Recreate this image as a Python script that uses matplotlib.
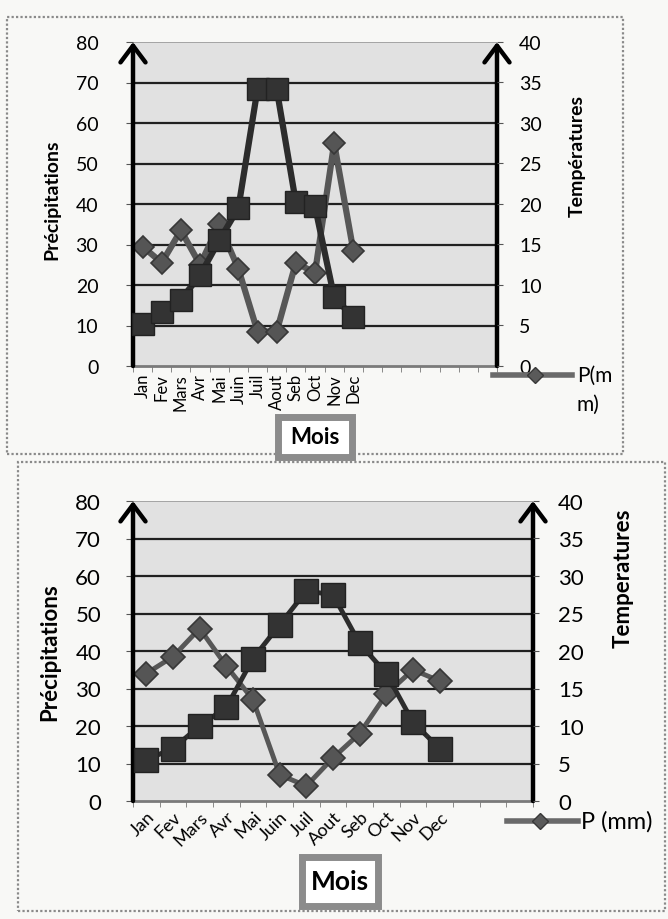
import numpy as np
import matplotlib
matplotlib.use("Agg")
import matplotlib.pyplot as plt
from matplotlib.patches import Rectangle
from matplotlib.lines import Line2D

plt.rcParams['font.family'] = ['Lato', 'DejaVu Sans']

# data
mois_haut = ['Jan', 'Fev', 'Mars', 'Avr', 'Mai', 'Juin', 'Juil', 'Aout', 'Seb', 'Oct', 'Nov', 'Dec']
precip_haut = [29.5, 25.5, 33.5, 25, 35, 24, 8.5, 8.5, 25.5, 23, 55, 28.5]
temp_haut = [5.2, 6.7, 8.2, 11.2, 15.5, 19.5, 34.2, 34.2, 20.2, 19.7, 8.5, 6]
n_cat_haut = 19  # excel range had empty rows after Dec

mois_bas = ['Jan', 'Fev', 'Mars', 'Avr', 'Mai', 'Juin', 'Juil', 'Aout', 'Seb', 'Oct', 'Nov', 'Dec']
precip_bas = [34, 38.5, 46, 36, 27, 7, 4, 11.5, 18, 28.5, 35, 32]
temp_bas = [5.5, 7, 10, 12.5, 19, 23.5, 28, 27.5, 21, 17, 10.5, 7]
n_cat_bas = 15

W, H = 668, 920
fig = plt.figure(figsize=(W / 100, H / 100), dpi=100)
fig.patch.set_facecolor('#f8f8f6')


def px_axes(x0, y0, x1, y1):
    return fig.add_axes([x0 / W, 1 - y1 / H, (x1 - x0) / W, (y1 - y0) / H])


def fx(x):
    return x / W


def fy(y):
    return 1 - y / H


def frame(x0, y0, x1, y1):
    fig.patches.append(Rectangle((fx(x0), fy(y1)), fx(x1) - fx(x0), fy(y0) - fy(y1),
                                 transform=fig.transFigure, fill=False,
                                 edgecolor='#8a8a8a', lw=1.6, linestyle=(0, (1, 1))))


def mois_box(x0, y0, x1, y1, size):
    fig.patches.append(Rectangle((fx(x0), fy(y1)), fx(x1) - fx(x0), fy(y0) - fy(y1),
                                 transform=fig.transFigure, facecolor='white',
                                 edgecolor='#8c8c8c', lw=5))
    fig.text(fx((x0 + x1) / 2), fy((y0 + y1) / 2), 'Mois', ha='center', va='center',
             fontsize=size, fontweight='bold')


def draw_panel(box, months, precip, temp, n_cat, tick_fs, lab_fs, rlab, rlab_fs,
               xrot, x_fs, lw_line, ms_sq, ms_d, pad_l, pad_r, lpos, rpos):
    ax = px_axes(*box)
    ax.set_facecolor('#e1e1e1')
    ax.set_xlim(-0.5, n_cat - 0.5)
    ax.set_ylim(0, 80)
    ax.set_yticks(np.arange(0, 81, 10))
    for v in range(10, 80, 10):
        ax.axhline(v, color='#202020', lw=1.6, zorder=1)
    ax.axhline(80, color='#9a9a9a', lw=1.2, zorder=1)
    for s in ['left', 'right', 'top']:
        ax.spines[s].set_visible(False)
    ax.spines['bottom'].set_color('#7a7a7a')
    ax.spines['bottom'].set_linewidth(2)
    ax.spines['bottom'].set_linestyle((0, (1, 1)))

    x = np.arange(len(months))
    ax.set_xticks(x)
    if xrot == 90:
        ax.set_xticklabels(months, rotation=90, fontsize=x_fs, ha='center', va='top')
    else:
        ax.set_xticklabels(months, rotation=45, fontsize=x_fs, ha='right', va='top',
                           rotation_mode='anchor')
    ax.set_xticks(np.arange(-0.5, n_cat, 1), minor=True)
    ax.tick_params(axis='x', which='major', length=0, pad=5)
    ax.tick_params(axis='x', which='minor', length=4, color='#777777')
    ax.tick_params(axis='y', length=5, color='#555555', labelsize=tick_fs, pad=pad_l)
    ax.set_ylabel('Précipitations', fontsize=lab_fs, fontweight='bold')
    ax.yaxis.set_label_coords(*lpos)
    ax.yaxis.label.set_verticalalignment('center')

    ax.plot(x, precip, color='#575757', lw=lw_line, marker='D', ms=ms_d,
            mfc='#555555', mec='#383838', mew=1.2, zorder=3, clip_on=False)

    ax2 = ax.twinx()
    ax2.set_ylim(0, 40)
    ax2.set_yticks(np.arange(0, 41, 5))
    for s in ['left', 'right', 'top', 'bottom']:
        ax2.spines[s].set_visible(False)
    ax2.tick_params(axis='y', length=4, color='#555555', labelsize=tick_fs, pad=pad_r)
    ax2.set_ylabel(rlab, fontsize=rlab_fs, fontweight='bold')
    ax2.yaxis.set_label_coords(*rpos)
    ax2.yaxis.label.set_verticalalignment('center')
    ax2.plot(x, temp, color='#2c2c2c', lw=lw_line, marker='s', ms=ms_sq,
             mfc='#333333', mec='#222222', zorder=4, clip_on=False)

    for xa in (0, 1):
        ax.annotate('', xy=(xa, 1.0), xytext=(xa, 0), xycoords='axes fraction',
                    arrowprops=dict(arrowstyle='->,head_length=0.6,head_width=0.45',
                                    lw=3.2, color='black', mutation_scale=20,
                                    shrinkA=0, shrinkB=0), zorder=6)
    return ax


# top chart
frame(7, 18, 623, 455)
draw_panel((133, 43, 497, 367), mois_haut, precip_haut, temp_haut, n_cat_haut,
           tick_fs=14, lab_fs=14, rlab='Températures', rlab_fs=14,
           xrot=90, x_fs=12, lw_line=4.5, ms_sq=16, ms_d=11, pad_l=20, pad_r=12,
           lpos=(-0.223, 0.515), rpos=(1.22, 0.65))
mois_box(278, 418, 352, 458, 16)
fig.lines.append(Line2D([fx(493), fx(572)], [fy(376), fy(376)], transform=fig.transFigure,
                        color='#6a6a6a', lw=4))
fig.lines.append(Line2D([fx(535)], [fy(376)], transform=fig.transFigure, marker='D',
                        ms=8, color='#5a5a5a', mec='#383838'))
fig.text(fx(577), fy(376), 'P(m', fontsize=15, va='center', ha='left')
fig.text(fx(577), fy(405), 'm)', fontsize=15, va='center', ha='left')

# bottom chart
frame(18, 463, 665, 912)
draw_panel((133, 502, 533, 802), mois_bas, precip_bas, temp_bas, n_cat_bas,
           tick_fs=16, lab_fs=16, rlab='Temperatures', rlab_fs=16,
           xrot=45, x_fs=13, lw_line=3.5, ms_sq=17, ms_d=12, pad_l=18, pad_r=14,
           lpos=(-0.2075, 0.5), rpos=(1.225, 0.747))
mois_box(302, 858, 378, 907, 19)
fig.lines.append(Line2D([fx(507), fx(578)], [fy(822), fy(822)], transform=fig.transFigure,
                        color='#6a6a6a', lw=4))
fig.lines.append(Line2D([fx(540)], [fy(822)], transform=fig.transFigure, marker='D',
                        ms=8, color='#5a5a5a', mec='#383838'))
fig.text(fx(581), fy(822), 'P (mm)', fontsize=17, va='center', ha='left')

fig.savefig('out.png', dpi=100, facecolor=fig.get_facecolor())
